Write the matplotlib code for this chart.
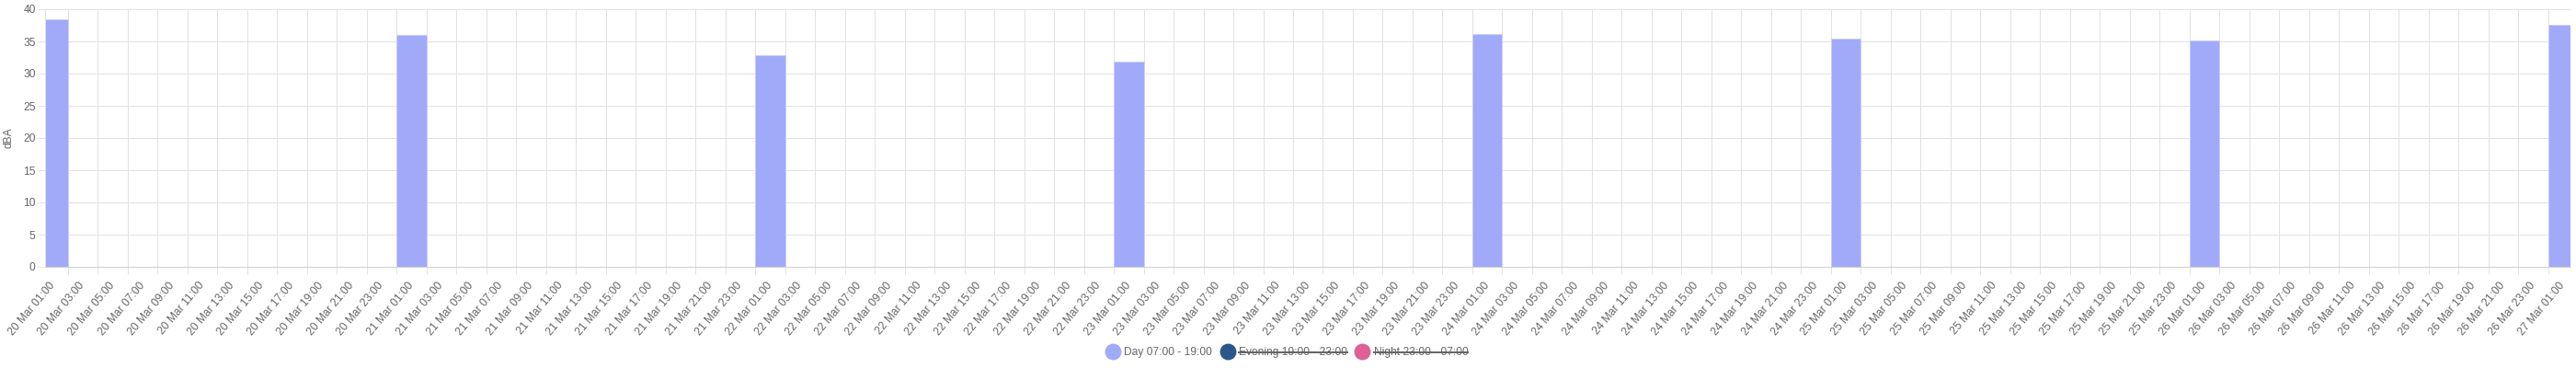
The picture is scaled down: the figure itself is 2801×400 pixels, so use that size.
import matplotlib.pyplot as plt
from matplotlib.lines import Line2D
import numpy as np
import pandas as pd

plt.rcParams['font.family'] = ['Liberation Sans', 'DejaVu Sans']

# hourly categories on the x axis: 20 Mar 01:00 .. 27 Mar 01:00
hours = pd.date_range('2024-03-20 01:00', '2024-03-27 01:00', freq='h')
categories = [h.strftime('%d %b %H:%M') for h in hours]

# Day series (only these hours carry a value)
day_labels = ['20 Mar 01:00', '21 Mar 01:00', '22 Mar 01:00', '23 Mar 01:00',
              '24 Mar 01:00', '25 Mar 01:00', '26 Mar 01:00', '27 Mar 01:00']
day_values = [38.4, 36.0, 32.8, 31.8, 36.1, 35.4, 35.2, 37.6]

# legend entries (evening / night are switched off)
series_names = ['Day 07:00 - 19:00', 'Evening 19:00 - 23:00', 'Night 23:00 - 07:00']
series_colors = ['#a1a9f9', '#2b568c', '#de6096']
series_hidden = [False, True, True]

W, H = 2801, 400
PX = 0.72  # 1 px in points at dpi 100
grid_col = '#e2e2e2'
text_col = '#666666'
fs = 12 * PX

fig = plt.figure(figsize=(W / 100, H / 100), dpi=100)
ax = fig.add_axes([49.5 / W, 110 / H, (2795 - 49.5) / W, 280 / H])

xpos = [categories.index(d) for d in day_labels]
ax.bar(xpos, day_values, width=2, color=series_colors[0], edgecolor='#c9cdfb',
       linewidth=1 * PX, zorder=2)

ax.set_xlim(-0.5, len(categories) - 0.5)
ax.set_ylim(0, 40)
ax.set_yticks(np.arange(0, 41, 5))

# labels on every second hour, grid lines halfway between them
ax.set_xticks(range(0, len(categories), 2))
ax.set_xticklabels(categories[::2], rotation=50, ha='right', va='center',
                   rotation_mode='anchor', fontsize=fs, color=text_col)
ax.set_xticks(range(1, len(categories), 2), minor=True)
ax.tick_params(axis='x', which='major', length=0, pad=13)
ax.tick_params(axis='x', which='minor', length=8 * PX, width=PX, color=grid_col)
ax.tick_params(axis='y', length=8 * PX, width=PX, color=grid_col, pad=2,
               labelsize=fs, labelcolor=text_col)
ax.grid(axis='x', which='minor', color=grid_col, lw=PX, zorder=0)
ax.grid(axis='y', which='major', color=grid_col, lw=PX, zorder=0)
ax.set_axisbelow(True)

for s in ['top', 'right']:
    ax.spines[s].set_visible(False)
ax.spines['left'].set_color(grid_col)
ax.spines['bottom'].set_color('#d0d0d0')
ax.spines['left'].set_linewidth(PX)
ax.spines['bottom'].set_linewidth(PX)

ax.set_ylabel('dBA', fontsize=fs, color=text_col)
ax.yaxis.set_label_coords((16 - 49.5) / (2795 - 49.5), 0.5)

handles = [Line2D([], [], marker='o', ls='', markersize=16.5 * PX, color=c)
           for c in series_colors]
leg = fig.legend(handles, series_names, loc='center', ncol=3,
                 bbox_to_anchor=(1399 / W, 17 / H), frameon=False, fontsize=fs,
                 handlelength=1.4, handletextpad=0.33, columnspacing=0.67,
                 borderpad=0, borderaxespad=0)
for t in leg.get_texts():
    t.set_color(text_col)

# strike through the hidden series in the legend
fig.canvas.draw()
inv = fig.transFigure.inverted()
for t, hidden in zip(leg.get_texts(), series_hidden):
    if not hidden:
        continue
    bb = t.get_window_extent()
    ymid = (bb.y0 + bb.y1) / 2
    (x0, y0), (x1, y1) = inv.transform([(bb.x0, ymid), (bb.x1, ymid)])
    fig.add_artist(Line2D([x0, x1], [y0, y1], color=text_col, lw=2 * PX))

fig.savefig('out.png', dpi=100)
